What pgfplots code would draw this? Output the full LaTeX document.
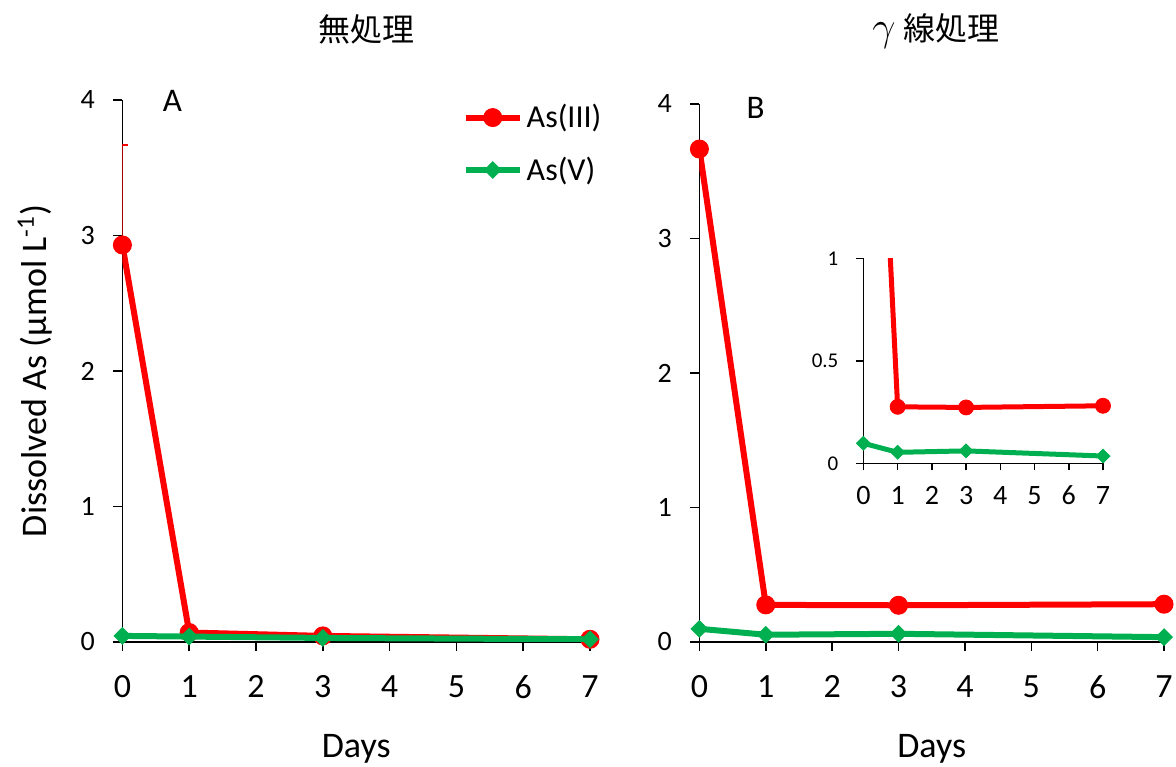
\documentclass[border=0pt]{standalone}
\usepackage{fontspec}
\setmainfont{Carlito}
\newfontfamily\cjk{Noto Sans CJK JP}
\usepackage{pgfplots}
\pgfplotsset{compat=1.18}
\definecolor{exred}{HTML}{FF0000}
\definecolor{exgreen}{HTML}{00B050}
\pgfplotsset{
  mainax/.style={
    scale only axis,
    clip mode=individual,
    xmin=0, xmax=7, ymin=0, ymax=4,
    axis x line*=bottom, axis y line*=left,
    axis line style={line width=0.75bp, black},
    tick style={line width=0.75bp, black},
    tick align=outside,
    major tick length=4.5bp,
    xtick={0,1,...,7}, ytick={0,1,2,3,4},
    /pgf/number format/assume math mode=true,
    yticklabel style={font=\fontsize{14bp}{16bp}\selectfont, xshift=-5.8bp},
    xticklabel style={font=\fontsize{17bp}{20bp}\selectfont, yshift=-8.7bp},
    label style={font=\fontsize{18bp}{21bp}\selectfont},
    title style={font=\cjk\fontsize{16bp}{19bp}\selectfont, anchor=center},
    xlabel={Days},
    xlabel style={at={(axis description cs:0.5,-0.198)}, anchor=center},
  },
  redl/.style={exred, line width=3bp, mark=*, mark size=4.5bp, mark options={solid, fill=exred, draw=exred, line width=0.5bp}},
  greenl/.style={exgreen, line width=3bp, mark=square*, mark size=2.9bp, mark options={solid, rotate=45, fill=exgreen, draw=exgreen, line width=0.5bp}},
}
\begin{document}
\begin{tikzpicture}
\useasboundingbox (0,0) rectangle (588bp,383.5bp);
% Panel A
\begin{axis}[mainax,
  at={(61.2bp,62.5bp)}, anchor=south west,
  width=233.8bp, height=271bp,
  ylabel={Dissolved As (µmol L\textsuperscript{-1})},
  ylabel style={at={(axis description cs:-0.187,0.5)}, anchor=center, rotate=0},
  title={無処理},
  title style={at={(axis description cs:0.522,1.109)}},
  legend style={draw=none, fill=none, font=\fontsize{16bp}{19bp}\selectfont,
    at={(axis description cs:0.727,1.0)}, anchor=north west,
    inner sep=0pt, row sep=9bp, legend cell align=left},
  legend image code/.code={\draw[mark repeat=2,mark phase=2] plot coordinates {(0bp,0bp)(13.5bp,0bp)(27bp,0bp)};},
]
\addplot[redl, error bars/.cd, y dir=plus, y explicit,
  error bar style={exred, line width=1bp},
  error mark options={exred, line width=1bp, mark size=3bp, rotate=90}]
  coordinates {(0,2.93) +- (0,0.74) (1,0.07) +- (0,0) (3,0.045) +- (0,0) (7,0.02) +- (0,0)};
\addlegendentry{As(III)}
\addplot[greenl] coordinates {(0,0.045) (1,0.04) (3,0.03) (7,0.02)};
\addlegendentry{As(V)}
\node[font=\fontsize{16.5bp}{19bp}\selectfont] at (axis description cs:0.107,0.998) {A};
\end{axis}
% Panel B
\begin{axis}[mainax,
  at={(349.7bp,62.5bp)}, anchor=south west,
  width=232.3bp, height=269bp,
  title={{\fontsize{19bp}{19bp}\selectfont$\gamma$}\hspace{4bp}線処理},
  title style={at={(axis description cs:0.509,1.113)}},
]
\addplot[redl] coordinates {(0,3.665) (1,0.276) (3,0.273) (7,0.281)};
\addplot[greenl] coordinates {(0,0.098) (1,0.054) (3,0.061) (7,0.036)};
\node[font=\fontsize{16.5bp}{19bp}\selectfont] at (axis description cs:0.121,0.993) {B};
\end{axis}
% Inset
\begin{axis}[
  scale only axis,
  at={(431.7bp,151.8bp)}, anchor=south west,
  width=119.8bp, height=102.5bp,
  xmin=0, xmax=7, ymin=0, ymax=1,
  axis x line*=bottom, axis y line*=left,
  axis line style={line width=0.75bp, black},
  tick style={line width=0.75bp, black},
  tick align=outside,
  major tick length=3.5bp,
  xtick={0,1,...,7}, ytick={0,0.5,1},
  /pgf/number format/assume math mode=true,
  yticklabel style={font=\fontsize{10.5bp}{12bp}\selectfont, xshift=-5.5bp},
  xticklabel style={font=\fontsize{14bp}{16bp}\selectfont, yshift=-4.3bp},
]
\addplot[exred, line width=2.5bp] coordinates {(0,3.665) (1,0.276) (3,0.273) (7,0.281)};
\addplot[only marks, mark=*, mark size=3.75bp, mark options={fill=exred, draw=exred}] coordinates {(1,0.276) (3,0.273) (7,0.281)};
\addplot[exgreen, line width=2.5bp, mark=square*, mark size=2.4bp, mark options={solid, rotate=45, fill=exgreen, draw=exgreen, line width=0.5bp}] coordinates {(0,0.098) (1,0.054) (3,0.061) (7,0.036)};
\end{axis}
\end{tikzpicture}
\end{document}
